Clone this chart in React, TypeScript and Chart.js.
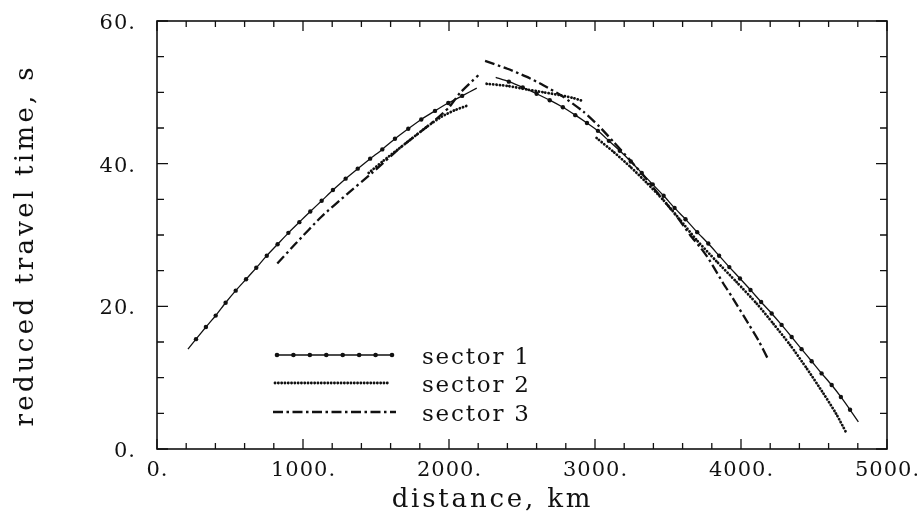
import { useEffect, useRef } from 'react';
import { Chart, registerables } from 'chart.js';

Chart.register(...registerables);

// ---------- data (distance km, reduced travel time s) ----------
const s1LeftDist = [212, 267, 335, 402, 470, 539, 610, 680, 752, 826, 900, 975, 1050, 1128, 1205, 1292, 1375, 1460, 1543, 1630, 1721, 1810, 1904, 1995, 2090, 2190];
const s1LeftTime = [14.0, 15.4, 17.1, 18.7, 20.5, 22.2, 23.8, 25.4, 27.1, 28.7, 30.3, 31.8, 33.3, 34.8, 36.3, 37.9, 39.3, 40.7, 42.0, 43.5, 44.9, 46.2, 47.4, 48.5, 49.5, 50.6];
const s1RightDist = [2320, 2410, 2505, 2600, 2690, 2780, 2865, 2945, 3020, 3095, 3170, 3245, 3320, 3395, 3470, 3545, 3620, 3700, 3776, 3850, 3920, 3993, 4065, 4138, 4210, 4278, 4347, 4415, 4484, 4552, 4621, 4684, 4747, 4804];
const s1RightTime = [52.1, 51.5, 50.7, 49.8, 48.9, 47.9, 46.8, 45.7, 44.6, 43.2, 41.8, 40.3, 38.7, 37.1, 35.5, 33.8, 32.2, 30.4, 28.8, 27.1, 25.5, 23.9, 22.3, 20.6, 19.0, 17.4, 15.7, 14.0, 12.3, 10.6, 8.97, 7.3, 5.5, 3.8];

const s2LeftDist = [1450, 1550, 1650, 1750, 1850, 1950, 2040, 2121];
const s2LeftTime = [38.7, 40.4, 42.0, 43.6, 45.2, 46.6, 47.5, 48.1];
const s2MidDist = [2258, 2400, 2532, 2650, 2760, 2850, 2916];
const s2MidTime = [51.2, 50.9, 50.4, 50.0, 49.6, 49.2, 48.8];
const s2DescDist = [3011, 3130, 3240, 3350, 3468, 3580, 3696, 3833, 3970, 4107, 4220, 4336, 4450, 4564, 4650, 4723];
const s2DescTime = [43.6, 41.6, 39.6, 37.4, 34.9, 32.2, 29.3, 26.3, 23.4, 20.4, 17.6, 14.6, 11.3, 7.8, 5.0, 2.2];

const s3LeftDist = [824, 950, 1128, 1300, 1470, 1664, 1800, 1893, 2000, 2075, 2201];
const s3LeftTime = [26.0, 28.8, 32.6, 35.7, 38.65, 42.2, 44.4, 45.9, 47.9, 49.9, 52.4];
const s3RightDist = [2247, 2400, 2530, 2646, 2780, 2920, 3030, 3125, 3240, 3350, 3460, 3560, 3651, 3720, 3780, 3879, 3936, 4050, 4120, 4185];
const s3RightTime = [54.4, 53.3, 52.2, 51.0, 49.4, 47.3, 45.2, 43.1, 40.5, 37.9, 35.1, 32.6, 30.0, 28.3, 26.6, 23.2, 21.4, 17.6, 15.2, 12.6];

const seriesLabels = ['sector 1', 'sector 2', 'sector 3'];
const xTickValues = [0, 1000, 2000, 3000, 4000, 5000];
const xTickLabels = ['0.', '1000.', '2000.', '3000.', '4000.', '5000.'];
const yTickValues = [0, 20, 40, 60];
const yTickLabels = ['0.', '20.', '40.', '60.'];
const xMin = 0, xMax = 5000, xMajorStep = 1000, xMinorStep = 200;
const yMin = 0, yMax = 60, yMajorStep = 20, yMinorStep = 5;
const xTitle = 'distance, km';
const yTitle = 'reduced travel time, s';

const INK = '#111';
const SERIF = '"DejaVu Serif", serif';
const DOTTED = [0.1, 3.2];
const DASHDOT = [10, 3.5, 2.5, 3.5];

type Seg = [number[], number[]];

function joinSegments(segs: Seg[], markerR: number) {
  const data: { x: number; y: number | null }[] = [];
  const radii: number[] = [];
  segs.forEach(([ds, ts], si) => {
    if (si > 0) {
      const prev = segs[si - 1][0];
      data.push({ x: (prev[prev.length - 1] + ds[0]) / 2, y: null });
      radii.push(0);
    }
    ds.forEach((d, i) => {
      data.push({ x: d, y: ts[i] });
      radii.push(i === 0 || i === ds.length - 1 ? 0 : markerR);
    });
  });
  return { data, radii };
}

function drawSpaced(ctx: CanvasRenderingContext2D, text: string, x: number, y: number, spacing: number, align: 'left' | 'center' | 'right') {
  (ctx as any).letterSpacing = spacing + 'px';
  const w = ctx.measureText(text).width - spacing;
  ctx.textAlign = 'left';
  const x0 = align === 'center' ? x - w / 2 : align === 'right' ? x - w : x;
  ctx.fillText(text, x0, y);
  (ctx as any).letterSpacing = '0px';
}

const framePlugin = {
  id: 'frameTicks',
  afterDatasetsDraw(chart: any) {
    const { ctx, chartArea, scales } = chart;
    const { left, right, top, bottom } = chartArea;
    const xs = scales.x, ys = scales.y;
    ctx.save();
    ctx.strokeStyle = INK;
    ctx.setLineDash([]);
    ctx.lineWidth = 1.6;
    ctx.strokeRect(left, top, right - left, bottom - top);
    ctx.lineWidth = 1.3;
    ctx.beginPath();
    for (let v = xMin; v <= xMax; v += xMinorStep) {
      const px = xs.getPixelForValue(v);
      const len = v % xMajorStep === 0 ? 10 : 6;
      ctx.moveTo(px, bottom); ctx.lineTo(px, bottom - len);
      ctx.moveTo(px, top); ctx.lineTo(px, top + len);
    }
    for (let v = yMin; v <= yMax; v += yMinorStep) {
      const py = ys.getPixelForValue(v);
      const len = v % yMajorStep === 0 ? 11 : 7;
      ctx.moveTo(left, py); ctx.lineTo(left + len, py);
      ctx.moveTo(right, py); ctx.lineTo(right - len, py);
    }
    ctx.stroke();

    ctx.fillStyle = INK;
    ctx.textBaseline = 'alphabetic';
    // tick labels
    ctx.font = '21px ' + SERIF;
    xTickValues.forEach((v, i) => drawSpaced(ctx, xTickLabels[i], xs.getPixelForValue(v), bottom + 27, 1, 'center'));
    yTickValues.forEach((v, i) => drawSpaced(ctx, yTickLabels[i], left - 22, ys.getPixelForValue(v) + 8, 1, 'right'));

    // axis titles
    ctx.font = '26px ' + SERIF;
    drawSpaced(ctx, xTitle, left + 334, bottom + 58, 2.8, 'center');
    ctx.save();
    ctx.translate(33, top + 226);
    ctx.rotate(-Math.PI / 2);
    drawSpaced(ctx, yTitle, 0, 0, 3.3, 'center');
    ctx.restore();

    // legend
    const lx0 = left + 120, lx1 = left + 235;
    const rows = [bottom - 94, bottom - 66, bottom - 37];
    ctx.lineWidth = 1.3;
    ctx.beginPath(); ctx.moveTo(lx0, rows[0]); ctx.lineTo(lx1, rows[0]); ctx.stroke();
    for (let i = 0; i < 8; i++) {
      ctx.beginPath();
      ctx.arc(lx0 + ((lx1 - lx0) * i) / 7, rows[0], 2.3, 0, Math.PI * 2);
      ctx.fill();
    }
    ctx.lineWidth = 2.8; ctx.lineCap = 'round'; ctx.setLineDash(DOTTED);
    ctx.beginPath(); ctx.moveTo(lx0 - 2, rows[1]); ctx.lineTo(lx1 - 3, rows[1]); ctx.stroke();
    ctx.lineWidth = 2.3; ctx.lineCap = 'butt'; ctx.setLineDash(DASHDOT);
    ctx.beginPath(); ctx.moveTo(lx0 - 4, rows[2]); ctx.lineTo(lx1 + 4, rows[2]); ctx.stroke();
    ctx.setLineDash([]);
    ctx.font = '23px ' + SERIF;
    seriesLabels.forEach((t, i) => drawSpaced(ctx, t, left + 265, rows[i] + 9, 1.8, 'left'));
    ctx.restore();
  },
};

export default function App() {
  const ref = useRef<HTMLCanvasElement | null>(null);
  useEffect(() => {
    document.body.style.margin = '0';
    document.body.style.overflow = 'hidden';
    const canvas = ref.current;
    if (!canvas) return;
    const s1 = joinSegments([[s1LeftDist, s1LeftTime], [s1RightDist, s1RightTime]], 2.2);
    const s2 = joinSegments([[s2LeftDist, s2LeftTime], [s2MidDist, s2MidTime], [s2DescDist, s2DescTime]], 0);
    const s3 = joinSegments([[s3LeftDist, s3LeftTime], [s3RightDist, s3RightTime]], 0);
    const chart = new Chart(canvas, {
      type: 'line',
      data: {
        datasets: [
          {
            label: seriesLabels[0], data: s1.data as any, borderColor: INK, backgroundColor: INK,
            borderWidth: 1.3, pointRadius: s1.radii, pointBackgroundColor: INK, pointBorderWidth: 0,
            tension: 0.2, spanGaps: false,
          },
          {
            label: seriesLabels[1], data: s2.data as any, borderColor: INK, borderWidth: 2.8,
            borderDash: DOTTED, borderCapStyle: 'round', pointRadius: 0, tension: 0.2, spanGaps: false,
          },
          {
            label: seriesLabels[2], data: s3.data as any, borderColor: INK, borderWidth: 2.3,
            borderDash: DASHDOT, pointRadius: 0, tension: 0.2, spanGaps: false,
          },
        ],
      },
      options: {
        animation: false,
        responsive: false,
        devicePixelRatio: 1,
        layout: { padding: { left: 0, right: 30, top: 21, bottom: 0 } },
        plugins: { legend: { display: false }, tooltip: { enabled: false } },
        scales: {
          x: {
            type: 'linear', min: xMin, max: xMax,
            grid: { display: false }, border: { display: false },
            ticks: { display: false, stepSize: xMajorStep },
            afterFit: (s: any) => { s.height = 62; },
          },
          y: {
            type: 'linear', min: yMin, max: yMax,
            grid: { display: false }, border: { display: false },
            ticks: { display: false, stepSize: yMajorStep },
            afterFit: (s: any) => { s.width = 157; },
          },
        },
      },
      plugins: [framePlugin],
    });
    return () => chart.destroy();
  }, []);
  return <canvas ref={ref} width={917} height={511} style={{ display: 'block' }} />;
}
